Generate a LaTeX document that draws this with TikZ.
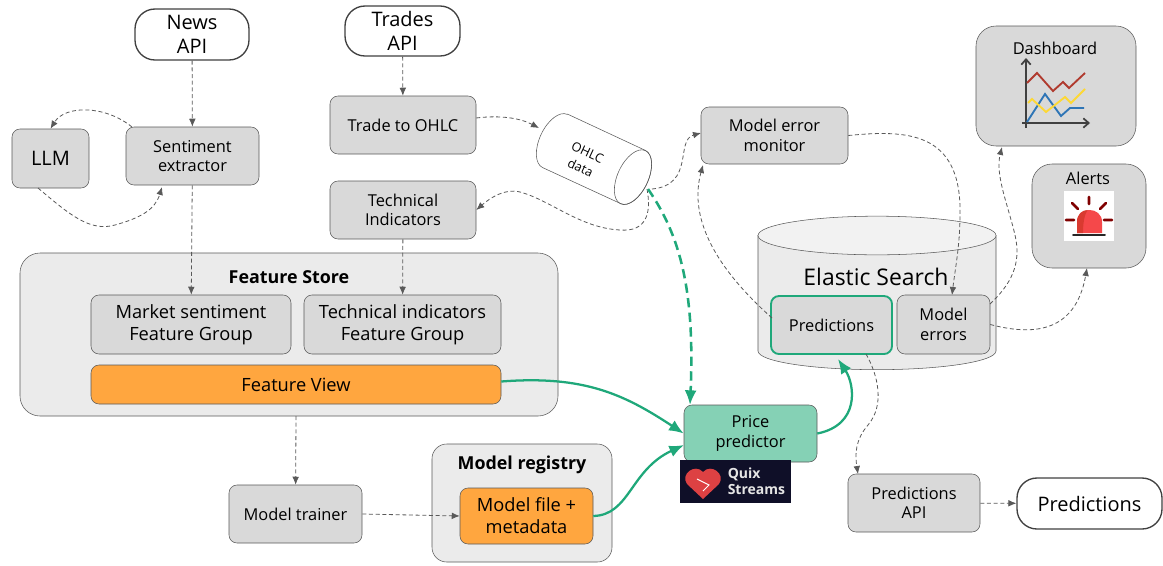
\documentclass[tikz,border=0pt]{standalone}
\usepackage{fontspec}
\setmainfont{Open Sans}
\usetikzlibrary{arrows.meta}
\definecolor{boxgrey}{HTML}{D9D9D9}
\definecolor{panelgrey}{HTML}{EBEBEB}
\definecolor{linegrey}{HTML}{595959}
\definecolor{modelgreen}{HTML}{1FA87A}
\definecolor{pricegreen}{HTML}{85D1B5}
\definecolor{orangebox}{HTML}{FFA63F}
\definecolor{quixdark}{HTML}{0F0F28}
\definecolor{alertred}{HTML}{F5484A}
\definecolor{alertdark}{HTML}{D93A30}
\definecolor{chartred}{HTML}{B03A2E}
\definecolor{chartblue}{HTML}{2E75B6}
\definecolor{chartyellow}{HTML}{FDD835}
\tikzset{
  txt/.style={font=\fontsize{12.3}{14.6}\selectfont, align=center, text=black},
  bigtxt/.style={font=\fontsize{13.7}{16.5}\selectfont},
  hugetxt/.style={font=\fontsize{15}{17.5}\selectfont},
  boldtxt/.style={font=\bfseries\fontsize{13.4}{16}\selectfont},
  box/.style={txt, draw=linegrey, fill=boxgrey, rounded corners=6pt, inner sep=0pt},
  panel/.style={draw=linegrey, fill=panelgrey, rounded corners=15pt, inner sep=0pt},
  pill/.style={txt, draw=black!75, line width=1pt, fill=white, rounded corners=15pt, inner sep=0pt},
  flow/.style={-{Latex[length=6pt,width=5pt]}, dashed, draw=linegrey, dash pattern=on 3pt off 2pt, line width=0.6pt},
  greenflow/.style={-{Latex[length=11pt,width=9pt]}, draw=modelgreen, line width=1.7pt},
}
\begin{document}
\begin{tikzpicture}[x=0.75pt,y=-0.75pt]
\useasboundingbox (0,0) rectangle (1163,565);
% panels
\node[panel, minimum width=403.5pt, minimum height=122.25pt] (store) at (289,334.5) {};
\node[panel, rounded corners=11pt, minimum width=135pt, minimum height=88.5pt] (registry) at (522,503) {};
% elastic search drum
\filldraw[draw=linegrey, fill=panelgrey] (758,235.5) -- (758,351) arc[start angle=180, end angle=360, x radius=89.25pt, y radius=14pt] -- (996,235.5) -- cycle;
\filldraw[draw=linegrey, fill=white!95!black] (877,235.5) ellipse[x radius=89.25pt, y radius=14.5pt];
% sources
\node[pill, hugetxt, minimum width=85.5pt, minimum height=38.25pt] (news) at (192,34.5) {News\\API};
\node[pill, hugetxt, minimum width=86.25pt, minimum height=37.5pt] (trades) at (402.5,31) {Trades\\API};
\node[pill, hugetxt, minimum width=108.75pt, minimum height=38.25pt] (predout) at (1089.5,503.5) {Predictions};
% grey boxes
\node[box, hugetxt, minimum width=57.75pt, minimum height=44.25pt] (llm) at (50.5,158.5) {LLM};
\node[box, minimum width=99.75pt, minimum height=43.5pt] (sentiment) at (192.5,156) {Sentiment\\extractor};
\node[box, minimum width=109.5pt, minimum height=43.5pt] (trade) at (403,125) {Trade to OHLC};
\node[box, minimum width=109.5pt, minimum height=43.5pt] (tech) at (403,210) {Technical\\Indicators};
\node[box, minimum width=110.25pt, minimum height=42.75pt] (monitor) at (774.5,135.5) {Model error\\monitor};
\node[box, bigtxt, minimum width=150pt, minimum height=44.25pt] (market) at (191,324.5) {Market sentiment\\Feature Group};
\node[box, bigtxt, minimum width=147.75pt, minimum height=44.25pt] (techgroup) at (402.5,324.5) {Technical indicators\\Feature Group};
\node[box, bigtxt, fill=orangebox, minimum width=307.5pt, minimum height=29.25pt] (view) at (296,384.5) {Feature View};
\node[box, minimum width=99.75pt, minimum height=43.5pt] (trainer) at (295.5,514) {Model trainer};
\node[box, bigtxt, fill=orangebox, minimum width=99.75pt, minimum height=42pt] (file) at (526.5,516) {Model file +\\metadata};
\node[box, fill=pricegreen, minimum width=99.75pt, minimum height=42.75pt] (price) at (750.5,433.5) {Price\\predictor};
\node[box, minimum width=99pt, minimum height=43.5pt] (predapi) at (914,503) {Predictions\\API};
\node[box, draw=modelgreen, line width=1.4pt, minimum width=90.75pt, minimum height=43.5pt] (pred) at (831.5,325) {Predictions};
\node[box, minimum width=69.75pt, minimum height=44.25pt] (errors) at (943.5,324.5) {Model\\errors};
\node[box, rounded corners=15pt, minimum width=120pt, minimum height=90pt] (dash) at (1056,86) {};
\node[box, rounded corners=15pt, minimum width=85.5pt, minimum height=78pt] (alerts) at (1089,216) {};
% ohlc drum
\begin{scope}[shift={(594,159)}, rotate=-25]
\filldraw[draw=linegrey, fill=white] (-43,-29.5) -- (43,-29.5) arc[start angle=90, end angle=-90, x radius=11.5pt, y radius=22pt] -- (-43,29.5) arc[start angle=270, end angle=90, x radius=11.5pt, y radius=22pt] -- cycle;
\draw[draw=linegrey] (43,0) ellipse[x radius=11.5pt, y radius=22pt];
\end{scope}
\node[txt, rotate=-25, font=\fontsize{9.5}{12.5}\selectfont] (ohlc) at (584,160) {OHLC\\data};
% titles
\node[txt, boldtxt] (storetitle) at (289,277) {Feature Store};
\node[txt, boldtxt] (registrytitle) at (522,465) {Model registry};
\node[txt, font=\fontsize{17.2}{20}\selectfont] (elastictitle) at (876,277) {Elastic Search};
\node[txt] (dashtitle) at (1055,48) {Dashboard};
\node[txt] (alertstitle) at (1088,178) {Alerts};
% dashed flows
\draw[flow] (news) -- (sentiment);
\draw[flow] (trades) -- (trade);
\draw[flow] (132,127) .. controls (105,105) and (65,105) .. (llm.north);
\draw[flow] (38,188) .. controls (70,215) and (90,232) .. (115,225) .. controls (140,218) and (155,210) .. (162,187);
\draw[flow] (sentiment) -- (market);
\draw[flow] (tech) -- (techgroup);
\draw[flow] (trade.east) ++(0,-7) .. controls (500,115) and (520,118) .. (539,128);
\draw[flow] (647,189) .. controls (652,215) and (645,232) .. (620,230) .. controls (580,228) and (550,200) .. (520,192) .. controls (505,188) and (490,198) .. (tech.east);
\draw[flow] (652,189) .. controls (695,185) and (675,140) .. (701,133);
\draw[flow] (772,318) .. controls (735,285) and (685,230) .. (703,165);
\draw[flow] (monitor.east) .. controls (905,130) and (962,130) .. (960,215) .. controls (960,245) and (955,270) .. (952,295);
\draw[flow] (990,304) .. controls (1010,285) and (1022,265) .. (1015,235) .. controls (1008,205) and (995,175) .. (1002,147);
\draw[flow] (errors.east) .. controls (1030,335) and (1075,335) .. (1087,268);
\draw[flow] (866,354) .. controls (878,375) and (885,405) .. (868,425) .. controls (855,440) and (855,455) .. (858,474);
\draw[flow] (predapi) -- (predout);
\draw[flow] (296,416) -- (trainer);
\draw[flow] (trainer.east) -- (file.west);
% green flows
\draw[greenflow] (view.east) ++(0,-3) .. controls (585,375) and (625,395) .. (price.west);
\draw[greenflow] (file.east) .. controls (630,515) and (630,470) .. (684,445);
\draw[greenflow] (price.east) .. controls (860,425) and (855,385) .. (838,359);
\draw[greenflow, dashed, dash pattern=on 7pt off 4pt, line width=1.9pt] (648,189) .. controls (680,235) and (695,290) .. (690,405);
% quix badge
\node[fill=quixdark, minimum width=83.25pt, minimum height=32.25pt, inner sep=0pt] (quix) at (735.5,481.5) {};
\fill[alertred!90!black] (703,499) -- (687,484) .. controls (680,474) and (695,463) .. (703,472) .. controls (711,463) and (726,474) .. (719,484) -- cycle;
\draw[white, line width=0.7pt] (697,479) -- (709,485) -- (703,491);
\node[anchor=west, text=white!90!black, align=left, inner sep=0pt, font=\bfseries\fontsize{10.5}{12}\selectfont] (quixtext) at (727.5,481.5) {Quix\\Streams};
% dashboard chart
\draw[black!75, line width=1.3pt, -{Straight Barb[length=4pt,width=7pt]}] (1026,128) -- (1026,58);
\draw[black!75, line width=1.3pt, -{Straight Barb[length=4pt,width=7pt]}] (1022,123) -- (1090,123);
\draw[chartred, line width=1.4pt] (1027,83) -- (1037,73) -- (1053,91) -- (1063,82) -- (1069,88) -- (1085,73);
\draw[chartblue, line width=1.4pt] (1027,122) -- (1045,94) -- (1061,116) -- (1070,108) -- (1084,108);
\draw[chartyellow, line width=1.4pt] (1028,103) -- (1032,99) -- (1046,112) -- (1065,97) -- (1071,103) -- (1085,89);
% alert siren
\fill[white] (1064,191) rectangle (1114,241);
\fill[alertred] (1077,233) -- (1077,222) .. controls (1077,206) and (1102,206) .. (1102,222) -- (1102,233) -- cycle;
\fill[alertdark] (1077,233) -- (1077,222) .. controls (1077,214) and (1082,210) .. (1088,210) .. controls (1084,214) and (1083,225) .. (1083,233) -- cycle;
\draw[black!85, line width=1.4pt, line cap=round] (1073,235) -- (1105,235);
\draw[red!50!black, line width=2pt, line cap=round] (1089,197) -- (1089,204) (1072,203) -- (1078,209) (1106,203) -- (1100,209) (1066,220) -- (1074,220) (1104,220) -- (1112,220);
\end{tikzpicture}
\end{document}
